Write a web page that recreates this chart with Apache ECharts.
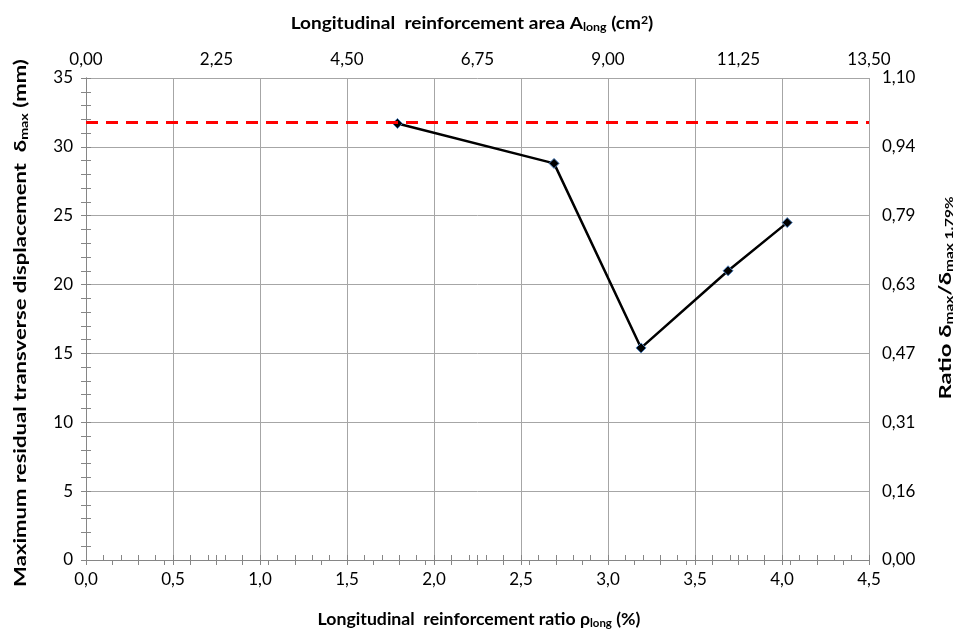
<!DOCTYPE html>
<html><head><meta charset="utf-8">
<script src="https://cdn.jsdelivr.net/npm/echarts@6/dist/echarts.min.js"></script>
<style>html,body{margin:0;padding:0;background:#fff}#c{width:960px;height:633px}</style>
</head><body><div id="c"></div>
<script>
// Data
const rhoLong = [1.79, 2.69, 3.19, 3.69, 4.03];          // %
const deltaMax = [31.7, 28.8, 15.4, 21.0, 24.5];          // mm
const refRatio = 1.0;                                     // δmax/δmax,1.79%
const bottomTicks = {min: 0, max: 4.5, interval: 0.5};
const topTicks = {min: 0, max: 13.5, interval: 2.25};
const leftTicks = {min: 0, max: 35, interval: 5};
const rightTicks = {min: 0, max: 1.1, steps: 7};
const titles = {
  bottom: '{n|Longitudinal  reinforcement ratio ρ}{s|long}{n| (%)}',
  top: '{n|Longitudinal  reinforcement area A}{s|long}{n| (cm}{p|2}{n|)}',
  left: '{n|Maximum residual transverse displacement  δ}{s|max}{n| (mm)}',
  right: '{n|Ratio δ}{s|max}{n|/δ}{s|max 1.79%}'
};

const FONT = "Lato, 'Noto Sans', sans-serif";
const comma = d => v => v.toFixed(d).replace('.', ',');
const gridCol = '#a6a6a6', axisCol = '#868686';
const lab = {color: '#000', fontFamily: FONT, fontSize: 17};
function richSet(size) {
  const sub = Math.round(size * 0.65);
  return {
    n: {fontFamily: FONT, fontSize: size, fontWeight: 'bold', fill: '#000'},
    s: {fontFamily: FONT, fontSize: sub, fontWeight: 'bold', fill: '#000', verticalAlign: 'bottom', padding: [7,0,0,0]},
    p: {fontFamily: FONT, fontSize: sub, fontWeight: 'bold', fill: '#000', verticalAlign: 'top', padding: [0,0,7,0]}
  };
}
function titleText(text, x, y, rot, scale, size) {
  return {
    type: 'text', x: x, y: y, rotation: rot, scaleX: scale, scaleY: 1, silent: true,
    style: {text: text, rich: richSet(size), fill: '#000', fontFamily: FONT, fontSize: size, fontWeight: 'bold',
            align: 'center', verticalAlign: 'middle'}
  };
}
function tickAxis(base) {
  return Object.assign({
    type: 'value', axisLine: {show: false}, axisLabel: {show: false}, splitLine: {show: false},
    axisTick: {show: true, inside: false, length: 5, lineStyle: {color: axisCol}}
  }, base);
}
const axisCommon = {
  type: 'value',
  axisLine: {show: true, lineStyle: {color: axisCol}},
  axisTick: {show: true, inside: true, length: 5, lineStyle: {color: axisCol}},
  minorTick: {show: true, splitNumber: 5, length: 5, lineStyle: {color: axisCol}}
};
const chart = echarts.init(document.getElementById('c'));
chart.setOption({
  animation: false,
  grid: {left: 86, right: 91, top: 78, bottom: 73, outerBoundsMode: 'none', containLabel: false},
  xAxis: [Object.assign({}, axisCommon, {
    position: 'bottom', min: bottomTicks.min, max: bottomTicks.max, interval: bottomTicks.interval,
    splitLine: {show: true, lineStyle: {color: gridCol, width: 1}},
    axisLabel: Object.assign({formatter: comma(1), margin: 11}, lab)
  }), Object.assign({}, axisCommon, {
    position: 'top', min: topTicks.min, max: topTicks.max, interval: topTicks.interval,
    splitLine: {show: false},
    axisLabel: Object.assign({formatter: comma(2), margin: 10}, lab)
  }),
  tickAxis({position: 'bottom', min: bottomTicks.min, max: bottomTicks.max, interval: bottomTicks.interval}),
  tickAxis({position: 'top', min: topTicks.min, max: topTicks.max, interval: topTicks.interval})
  ],
  yAxis: [Object.assign({}, axisCommon, {
    position: 'left', min: leftTicks.min, max: leftTicks.max, interval: leftTicks.interval,
    splitLine: {show: true, lineStyle: {color: gridCol, width: 1}},
    axisLabel: Object.assign({margin: 13}, lab)
  }), Object.assign({}, axisCommon, {
    position: 'right', min: rightTicks.min, max: rightTicks.max, interval: rightTicks.max / rightTicks.steps,
    splitLine: {show: false},
    axisLabel: Object.assign({formatter: comma(2), margin: 13}, lab)
  }),
  tickAxis({position: 'left', min: leftTicks.min, max: leftTicks.max, interval: leftTicks.interval}),
  tickAxis({position: 'right', min: rightTicks.min, max: rightTicks.max, interval: rightTicks.max / rightTicks.steps})
  ],
  graphic: [
    titleText(titles.top, 472, 24, 0, 1.12, 17),
    titleText(titles.bottom, 479, 620, 0, 1.04, 17),
    titleText(titles.left, 21, 323, Math.PI / 2, 1.30, 17),
    titleText(titles.right, 946, 298, Math.PI / 2, 1.4, 17)
  ],
  series: [{
    type: 'line', xAxisIndex: 0, yAxisIndex: 0,
    data: rhoLong.map((x, i) => [x, deltaMax[i]]),
    lineStyle: {color: '#000', width: 2.5},
    symbol: 'diamond', symbolSize: 10,
    itemStyle: {color: '#000', borderColor: '#4f81bd', borderWidth: 1},
    z: 3
  }, {
    type: 'line', xAxisIndex: 0, yAxisIndex: 1, data: [],
    markLine: {
      silent: true, symbol: ['none', 'none'], label: {show: false},
      lineStyle: {color: '#ff0000', width: 3, type: [12, 8]},
      data: [{yAxis: refRatio}]
    }
  }]
});
</script></body></html>
